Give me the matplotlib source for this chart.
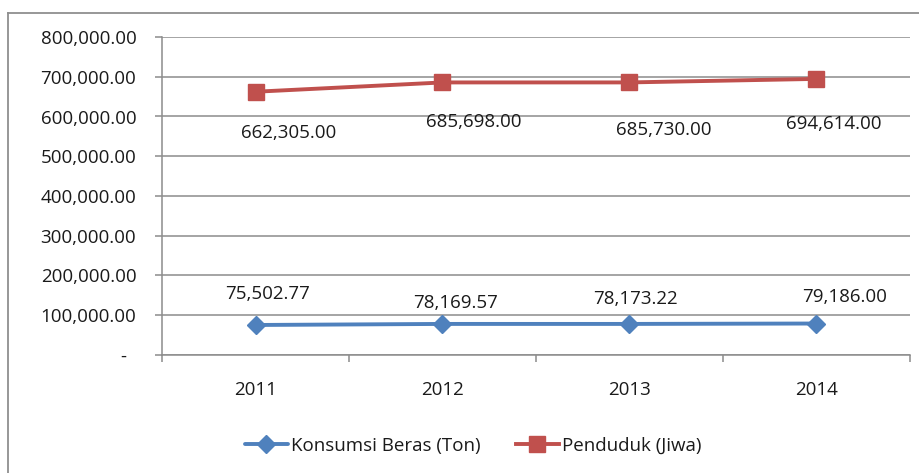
import matplotlib
matplotlib.use("Agg")
import matplotlib.pyplot as plt
from matplotlib.lines import Line2D
from matplotlib.ticker import FixedLocator, NullFormatter

years = ["2011", "2012", "2013", "2014"]
konsumsi = [75502.77, 78169.57, 78173.22, 79186.00]
penduduk = [662305.00, 685698.00, 685730.00, 694614.00]
yticks = [0, 100000, 200000, 300000, 400000, 500000, 600000, 700000, 800000]
ytick_labels = ["-  "] + [f"{v:,.2f}" for v in yticks[1:]]

# label offsets in pixels (dx right, dy down)
red_off = [(33, 41), (31, 40), (34, 48), (17, 45)]
blue_off = [(12, -31), (13, -21), (6, -25), (28, -27)]

plt.rcParams['font.family'] = ['Open Sans', 'DejaVu Sans']
FS = 13.5
TXT = '#1a1a1a'
GRID = '#8c8c8c'
BLUE = '#4F81BD'
RED = '#C0504D'

fig = plt.figure(figsize=(9.2, 4.73), dpi=100)
ax = fig.add_axes([162/920, 1-355/473, (910-162)/920, (355-37)/473])

x = list(range(1, len(years)+1))
ax.plot(x, konsumsi, color=BLUE, lw=2.8, marker='D', ms=9, mfc=BLUE, mec=BLUE,
        label="Konsumsi Beras (Ton)", zorder=3, solid_capstyle='round')
ax.plot(x, penduduk, color=RED, lw=2.8, marker='s', ms=11, mfc=RED, mec=RED,
        label="Penduduk (Jiwa)", zorder=3)

px2pt = 72/100
for xi, v, (dx, dy) in zip(x, penduduk, red_off):
    ax.annotate(f"{v:,.2f}", (xi, v), xytext=(dx*px2pt, -dy*px2pt), textcoords='offset points',
                ha='center', va='center', fontsize=FS, color=TXT)
for xi, v, (dx, dy) in zip(x, konsumsi, blue_off):
    ax.annotate(f"{v:,.2f}", (xi, v), xytext=(dx*px2pt, -dy*px2pt), textcoords='offset points',
                ha='center', va='center', fontsize=FS, color=TXT)

ax.set_xlim(0.5, len(years)+0.5)
ax.set_ylim(0, 800000)
ax.set_yticks(yticks)
ax.set_yticklabels(ytick_labels)
ax.yaxis.grid(True, color=GRID, lw=1.1)
ax.set_axisbelow(True)

# x: category labels centered, tick marks at boundaries
ax.xaxis.set_major_locator(FixedLocator([i + 0.5 for i in range(0, len(years)+1)]))
ax.xaxis.set_major_formatter(NullFormatter())
ax.xaxis.set_minor_locator(FixedLocator(x))
ax.set_xticklabels(years, minor=True)
ax.tick_params(axis='x', which='minor', length=0, pad=19, labelsize=FS, labelcolor=TXT)
ax.tick_params(axis='x', which='major', length=5, width=1.1, color=GRID, direction='out')
ax.tick_params(axis='y', length=5, width=1.1, color=GRID, direction='out', pad=13.5,
               labelsize=FS, labelcolor=TXT)

for s in ['top', 'right']:
    ax.spines[s].set_visible(False)
for s in ['left', 'bottom']:
    ax.spines[s].set_color(GRID)
    ax.spines[s].set_linewidth(1.1)

leg = fig.legend(loc='center', bbox_to_anchor=(473/920, 1-446/473), ncol=2, frameon=False,
                 fontsize=FS, handlelength=2.3, handletextpad=0.15, columnspacing=1.9,
                 labelcolor=TXT)

# outer frame
fig.add_artist(Line2D([8/920, 8/920], [0, 1-13/473], color='#8f8f8f', lw=1.3, transform=fig.transFigure))
fig.add_artist(Line2D([8/920, 1], [1-13/473, 1-13/473], color='#8f8f8f', lw=1.3, transform=fig.transFigure))

fig.savefig("out.png", dpi=100)
